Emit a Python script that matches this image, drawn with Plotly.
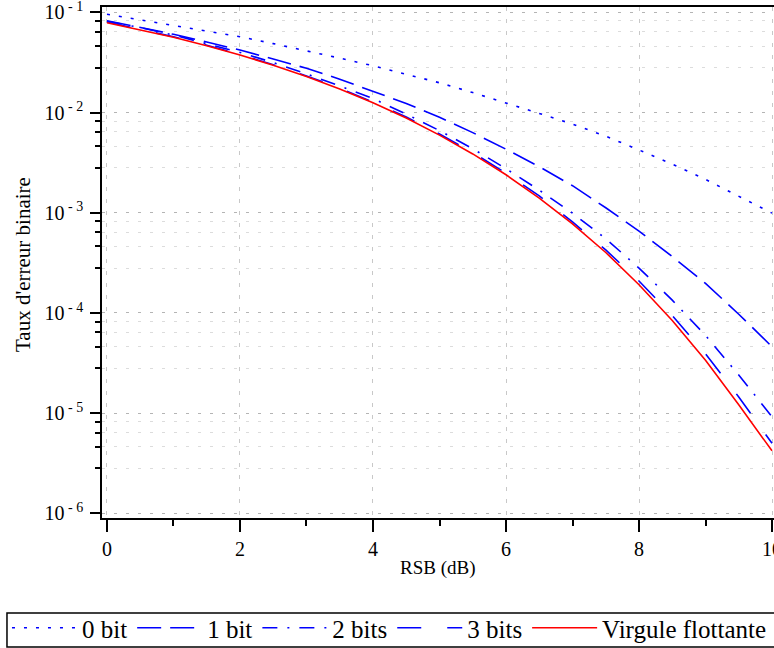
import plotly.graph_objects as go

# ---- data ----
rsb = [0, 0.5, 1, 1.5, 2, 2.5, 3, 3.5, 4, 4.5, 5, 5.5, 6, 6.5, 7, 7.5, 8, 8.5, 9, 9.5, 10]

ber_0bit = [0.0955, 0.0842, 0.074, 0.065, 0.0571, 0.0487, 0.0414, 0.0349, 0.0293, 0.0242, 0.0198,
            0.0158, 0.0125, 0.0098, 0.00767, 0.0058, 0.00423, 0.00305, 0.00215, 0.00147, 0.00099]
ber_1bit = [0.0824, 0.071, 0.0603, 0.0505, 0.042, 0.0342, 0.0276, 0.0215, 0.0164, 0.0123, 0.00895,
            0.0063, 0.0043, 0.00288, 0.00186, 0.00112, 6.56e-4, 3.65e-4, 1.97e-4, 9.7e-5, 4.6e-5]
ber_2bits = [0.0815, 0.0703, 0.0593, 0.049, 0.0398, 0.0315, 0.0243, 0.0184, 0.01377, 0.00964, 0.0066,
             0.00435, 0.00275, 0.00168, 0.00099, 5.5e-4, 2.8e-4, 1.34e-4, 5.96e-5, 2.4e-5, 9.2e-6]
ber_3bits = [0.080, 0.068, 0.057, 0.047, 0.038, 0.030, 0.0232, 0.0175, 0.0127, 0.0090, 0.0061,
             0.00398, 0.00248, 0.00147, 8.1e-4, 4.25e-4, 2.08e-4, 9.4e-5, 3.9e-5, 1.45e-5, 5.0e-6]
ber_float = [0.0786, 0.0671, 0.0563, 0.0464, 0.0375, 0.0296, 0.0229, 0.0172, 0.0125, 0.0088, 0.00595,
             0.00386, 0.00239, 0.0014, 7.73e-4, 4.01e-4, 1.91e-4, 8.4e-5, 3.36e-5, 1.21e-5, 4.2e-6]

series_names = ["0 bit", "1 bit", "2 bits", "3 bits", "Virgule flottante"]

y_major = [1e-6, 1e-5, 1e-4, 1e-3, 1e-2, 1e-1]
y_major_text = ["10<sup> - 6</sup>", "10<sup> - 5</sup>", "10<sup> - 4</sup>",
                "10<sup> - 3</sup>", "10<sup> - 2</sup>", "10<sup> - 1</sup>"]
y_minor_mult = [2.8, 4.6, 6.4, 8.2]
x_major = [0, 2, 4, 6, 8, 10]

FONT = "Liberation Serif, Times New Roman, serif"

y_minor = [m * d for d in y_major[:-1] for m in y_minor_mult]

fig = go.Figure()
styles = [
    (ber_0bit, "#0000ff", "3px,9px"),
    (ber_1bit, "#0000ff", "24px,9px"),
    (ber_2bits, "#0000ff", "15px,10px,2px,10px"),
    (ber_3bits, "#0000ff", "24px,26px"),
    (ber_float, "#ff0000", "solid"),
]
for name, (vals, col, dash) in zip(series_names, styles):
    fig.add_trace(go.Scatter(x=rsb, y=vals, mode="lines", name=name,
                             line=dict(color=col, width=1.6, dash=dash)))

fig.update_layout(
    width=774, height=648,
    margin=dict(l=102, r=0, t=7, b=130, autoexpand=False),
    paper_bgcolor="white", plot_bgcolor="white",
    font=dict(family=FONT, size=20, color="black"),
    showlegend=True,
    legend=dict(orientation="h", x=-0.1414, y=-0.1703, xanchor="left", yanchor="top",
                borderwidth=0, bgcolor="rgba(0,0,0,0)",
                font=dict(family=FONT, size=25), itemwidth=65,
                itemclick=False, itemdoubleclick=False),
    shapes=[
        dict(type="rect", xref="paper", yref="paper", x0=-0.1414, x1=1.03,
             y0=-0.2524, y1=-0.1859, line=dict(color="black", width=1.5),
             fillcolor="rgba(0,0,0,0)", layer="below"),
    ],
    annotations=[
        dict(text="RSB (dB)", xref="paper", yref="paper", x=0.5, y=-0.098,
             xanchor="center", yanchor="middle", showarrow=False,
             font=dict(family=FONT, size=19)),
        dict(text="Taux d'erreur binaire", xref="paper", yref="paper", x=-0.1176, y=0.497,
             xanchor="center", yanchor="middle", showarrow=False, textangle=-90,
             font=dict(family=FONT, size=21)),
    ],
)

fig.update_xaxes(
    range=[-0.075, 10.03], showline=True, linecolor="black", linewidth=1.5, mirror=True,
    tickmode="array", tickvals=x_major, ticks="outside", ticklen=12, tickwidth=1.5,
    tickcolor="black", tickfont=dict(family=FONT, size=20), ticklabelstandoff=0,
    ticklabeloverflow="allow", automargin=False,
    showgrid=True, gridcolor="#c8c8c8", gridwidth=1, griddash="4px,8px",
    zeroline=False,
    minor=dict(dtick=1, tick0=0, ticks="outside", ticklen=6, tickwidth=1.5,
               tickcolor="black", showgrid=False),
)
fig.update_yaxes(
    type="log", range=[-6.047, -0.947], showline=True, linecolor="black", linewidth=1.5,
    mirror=True, tickmode="array", tickvals=y_major, ticktext=y_major_text,
    ticks="outside", ticklen=10, tickwidth=1.5, tickcolor="black",
    tickfont=dict(family=FONT, size=20), ticklabelstandoff=3,
    ticklabeloverflow="allow", automargin=False,
    showgrid=True, gridcolor="#b4b4b4", gridwidth=1, griddash="3px,9px",
    zeroline=False,
    minor=dict(tickmode="array", tickvals=y_minor, ticks="outside", ticklen=5,
               tickwidth=1.5, tickcolor="black", showgrid=True,
               gridcolor="#dcdcdc", gridwidth=1, griddash="3px,9px"),
)

fig.write_html("out.html", config={"displayModeBar": False},
               post_script="document.body.style.margin='0px';")
